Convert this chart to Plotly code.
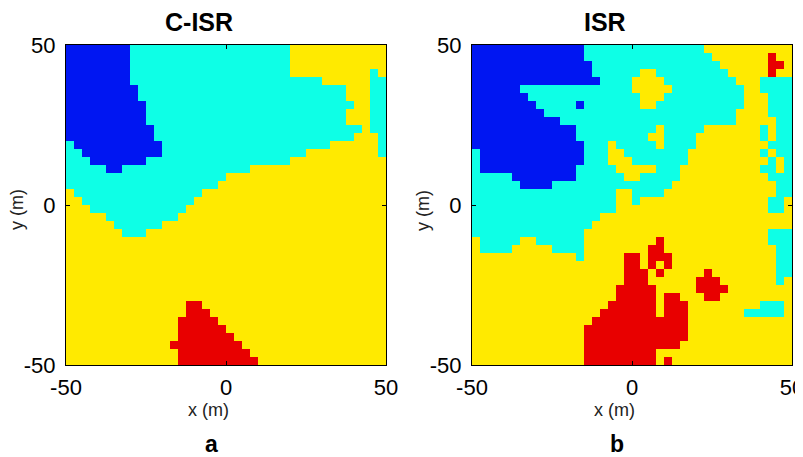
import plotly.graph_objects as go
import numpy as np

# ---------------- data ----------------
# class codes: B = class 1 (blue), C = class 2 (cyan), Y = class 3 (yellow), R = class 4 (red)
class_codes = ["B", "C", "Y", "R"]
class_colors = ["#0016F2", "#0EFFE6", "#FFEA00", "#E80000"]

panel_titles = ["C-ISR", "ISR"]
panel_letters = ["a", "b"]
tick_values = [-50, 0, 50]
tick_labels = ["-50", "0", "50"]
x_title = "x (m)"
y_title = "y (m)"

# 40 x 40 label maps (2.5 m cells), rows from y = +50 (top) to y = -50 (bottom),
# each row written as runs "<class><count>" from x = -50 to x = +50
cisr_rows = [
    "B8 C20 Y12",
    "B8 C20 Y12",
    "B8 C20 Y12",
    "B8 C20 Y10 C1 Y1",
    "B8 C24 Y6 C2",
    "B9 C26 Y3 C2",
    "B9 C26 Y3 C2",
    "B10 C26 Y2 C2",
    "B10 C25 Y3 C2",
    "B10 C25 Y3 C2",
    "B11 C26 Y1 C2",
    "B11 C25 Y3 C1",
    "C1 B11 C21 Y6 C1",
    "C2 B10 C18 Y9 C1",
    "C3 B7 C18 Y12",
    "C5 B2 C16 Y17",
    "C20 Y20",
    "C19 Y21",
    "Y1 C16 Y23",
    "Y2 C14 Y24",
    "Y3 C12 Y25",
    "Y5 C9 Y26",
    "Y6 C6 Y28",
    "Y7 C3 Y30",
    "Y40",
    "Y40",
    "Y40",
    "Y40",
    "Y40",
    "Y40",
    "Y40",
    "Y40",
    "Y15 R2 Y23",
    "Y15 R3 Y22",
    "Y14 R5 Y21",
    "Y14 R6 Y20",
    "Y14 R7 Y19",
    "Y13 R9 Y18",
    "Y14 R9 Y17",
    "Y14 R10 Y16",
]

isr_rows = [
    "B14 C15 Y11",
    "B14 C16 Y7 R1 Y2",
    "B15 C16 Y6 R2 Y1",
    "B15 C6 Y2 C9 Y5 R1 Y2",
    "B16 C4 Y4 C9 Y3 C4",
    "B6 C14 Y5 C9 Y2 C4",
    "B7 C14 Y3 C10 Y3 C3",
    "B8 C5 B1 C7 Y2 C11 Y3 C3",
    "B9 C24 Y4 C3",
    "B11 C22 Y5 C2",
    "B13 C10 Y1 C5 Y7 C1 Y1 C2",
    "B13 C9 Y2 C4 Y8 C1 Y1 C2",
    "B14 C3 Y1 C5 Y1 C4 Y9 C3",
    "C1 B13 C3 Y2 C8 Y9 C1 Y1 C2",
    "C1 B13 C3 Y3 C7 Y10 C1 Y1 C1",
    "C1 B12 C5 Y5 C3 Y10 C2 Y1 C1",
    "C5 B8 C6 Y2 C5 Y11 C3",
    "C6 B4 C15 Y13 C2",
    "C18 Y2 C4 Y14 C2",
    "C18 Y2 C1 Y16 C2 Y1",
    "C18 Y19 C2 Y1",
    "C16 Y24",
    "C15 Y25",
    "C14 Y23 C3",
    "Y1 C5 Y2 C6 Y9 R1 Y13 C3",
    "Y1 C4 Y5 C4 Y8 R2 Y14 C2",
    "Y13 C1 Y5 R2 Y1 R3 Y13 C2",
    "Y19 R2 Y1 R1 Y1 R1 Y13 C2",
    "Y19 R3 Y1 R1 Y5 R1 Y8 C2",
    "Y19 R3 Y6 R3 Y7 C1 Y1",
    "Y18 R5 Y5 R4 Y8",
    "Y18 R5 Y1 R2 Y3 R2 Y9",
    "Y17 R6 Y1 R3 Y9 C3 Y1",
    "Y16 R7 Y1 R3 Y7 C5 Y1",
    "Y15 R12 Y13",
    "Y14 R13 Y13",
    "Y14 R13 Y13",
    "Y14 R12 Y14",
    "Y14 R9 Y17",
    "Y14 R9 Y1 R1 Y15",
]

# ---------------- build the figure ----------------
N = 40
cell = 100.0 / N
centers = -50 + cell / 2 + cell * np.arange(N)


def expand(rows):
    grid = []
    for row in rows:
        vals = []
        for tok in row.split():
            vals += [class_codes.index(tok[0]) + 1] * int(tok[1:])
        assert len(vals) == N, (row, len(vals))
        grid.append(vals)
    assert len(grid) == N
    return grid


colorscale = []
for i, c in enumerate(class_colors):
    colorscale.append([i / 4, c])
    colorscale.append([(i + 1) / 4, c])

# the page body adds an 8 px margin, so the figure starts 8 px into the window;
# positions below are given in window pixels and shifted accordingly
PAGE = 8
W, H = 803, 457


def px(x):  # window x pixel -> figure paper fraction
    return (x - PAGE) / W


def py(y):  # window y pixel (from top) -> figure paper fraction (from bottom)
    return 1 - (y - PAGE) / H


panels_px = [(66, 386), (472, 792)]
top_px, bot_px = 45, 365

fig = go.Figure()
for k, rows in enumerate([cisr_rows, isr_rows]):
    grid = expand(rows)
    sfx = "" if k == 0 else "2"
    fig.add_trace(go.Heatmap(
        z=grid, x=centers, y=centers[::-1],
        zmin=0.5, zmax=4.5, colorscale=colorscale, showscale=False,
        zsmooth=False, xaxis="x" + sfx, yaxis="y" + sfx, hoverinfo="skip",
    ))

FONT = "Liberation Sans, Arial, sans-serif"
tick_font = dict(family=FONT, size=22, color="#000000")
axis_common = dict(
    range=[-50, 50], tickmode="array", tickvals=tick_values, ticktext=tick_labels,
    ticks="inside", ticklen=4, tickwidth=1, tickcolor="#000000",
    showline=True, linecolor="#000000", linewidth=1.3, mirror="ticks",
    showgrid=False, zeroline=False, tickfont=tick_font, fixedrange=True,
    automargin=False,
)

layout = dict(
    width=W, height=H, margin=dict(l=0, r=0, t=0, b=0, pad=0, autoexpand=False),
    paper_bgcolor="white", plot_bgcolor="white", showlegend=False,
)
for k, (x0, x1) in enumerate(panels_px):
    sfx = "" if k == 0 else "2"
    layout["xaxis" + sfx] = dict(axis_common, domain=[px(x0), px(x1)], anchor="y" + sfx,
                                 ticklabelstandoff=2)
    layout["yaxis" + sfx] = dict(axis_common, domain=[py(bot_px), py(top_px)], anchor="x" + sfx,
                                 ticklabelstandoff=5)
fig.update_layout(**layout)

annots = []
for k, (x0, x1) in enumerate(panels_px):
    off = x0 - 66
    annots.append(dict(text="<b>%s</b>" % panel_titles[k], x=px(199 + off), y=py(22),
                       xref="paper", yref="paper", showarrow=False, xanchor="center", yanchor="middle",
                       font=dict(family=FONT, size=25, color="#000000")))
    annots.append(dict(text=x_title, x=px(208 + off), y=py(410),
                       xref="paper", yref="paper", showarrow=False, xanchor="center", yanchor="middle",
                       font=dict(family=FONT, size=18, color="#222222")))
    annots.append(dict(text=y_title, x=px(17 + off), y=py(210), textangle=-90,
                       xref="paper", yref="paper", showarrow=False, xanchor="center", yanchor="middle",
                       font=dict(family=FONT, size=18, color="#222222")))
    annots.append(dict(text="<b>%s</b>" % panel_letters[k], x=px(211 + off), y=py(444),
                       xref="paper", yref="paper", showarrow=False, xanchor="center", yanchor="middle",
                       font=dict(family=FONT, size=23, color="#000000")))
fig.update_layout(annotations=annots)

fig.write_html("out.html")
